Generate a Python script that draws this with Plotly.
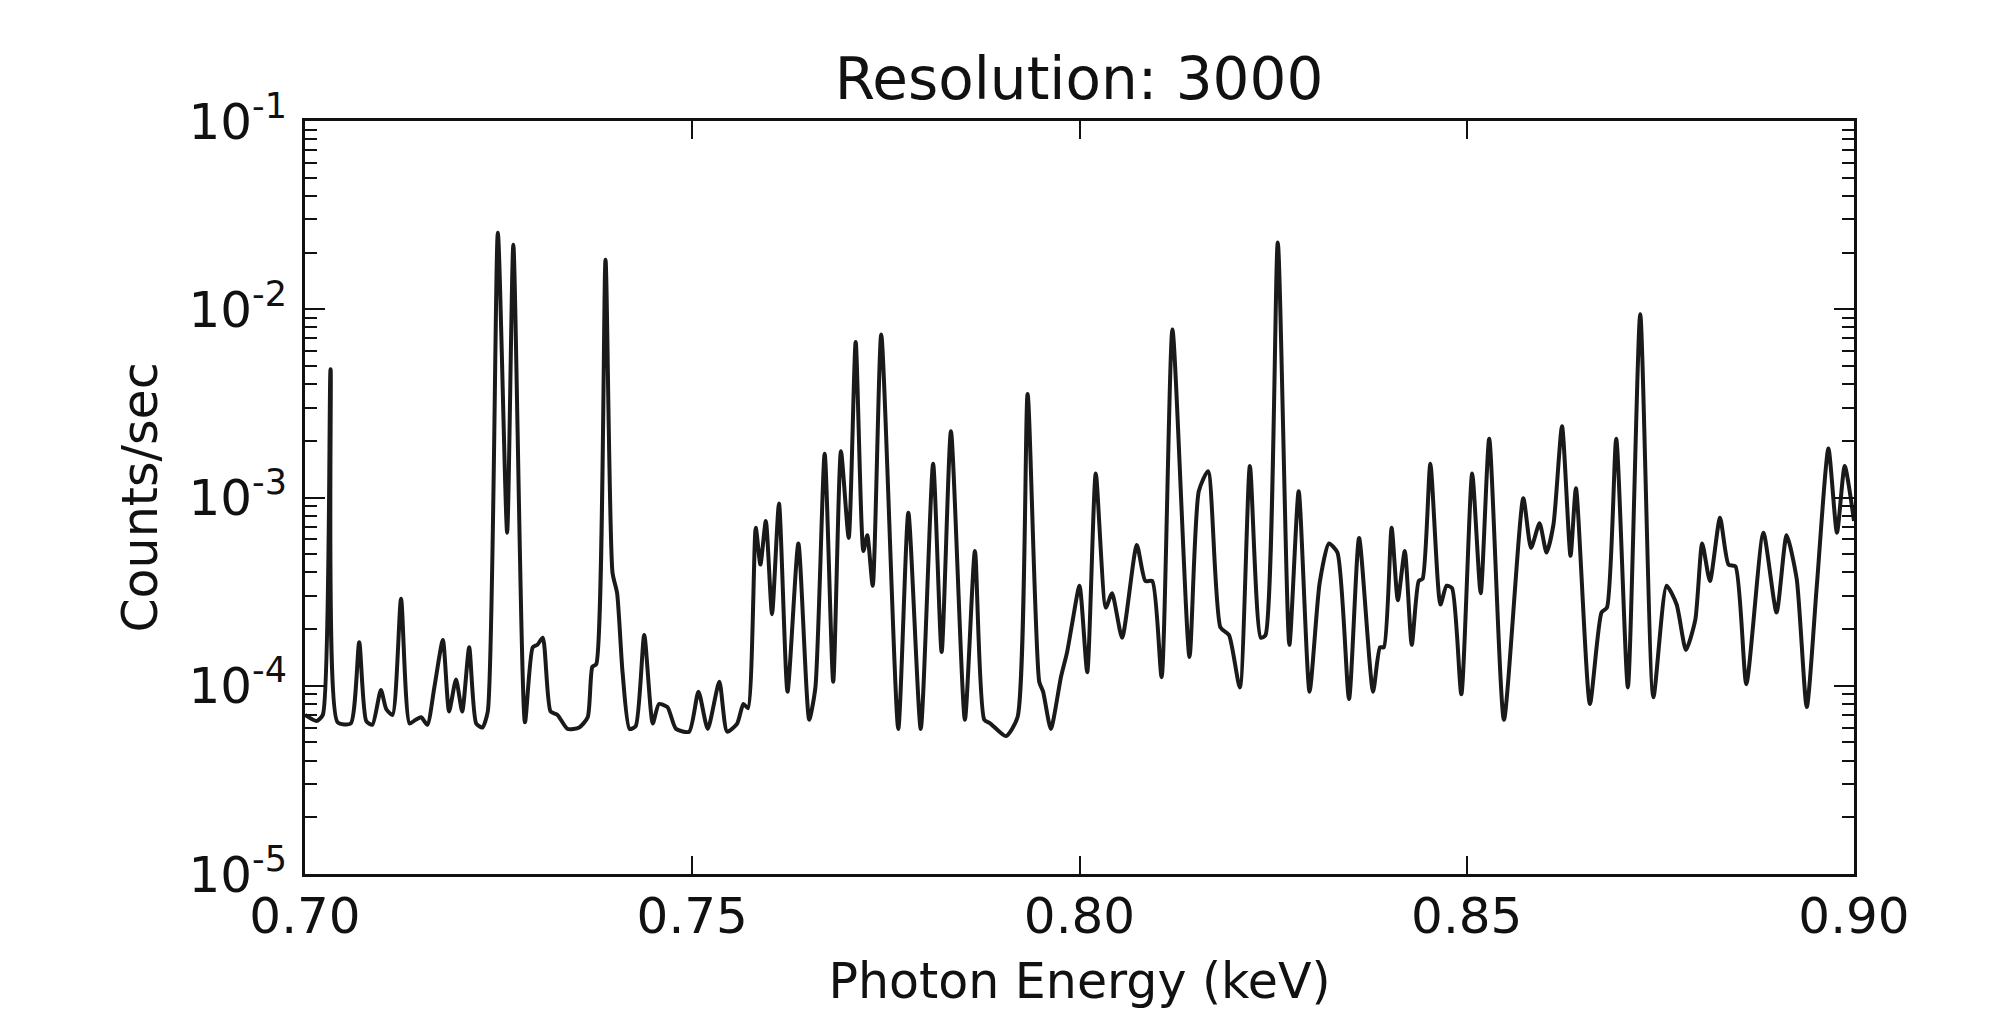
import plotly.graph_objects as go

# Photon energy (keV)
energy = [
    0.7000, 0.7015, 0.7023, 0.7033, 0.7042, 0.7059, 0.7070, 0.7079, 0.7087, 0.7098,
    0.7105, 0.7113, 0.7124, 0.7135, 0.7143, 0.7150, 0.7158, 0.7167, 0.7178, 0.7186,
    0.7195, 0.7203, 0.7212, 0.7221, 0.7229, 0.7236, 0.7249, 0.7261, 0.7269, 0.7284,
    0.7294, 0.7300, 0.7307, 0.7317, 0.7326, 0.7339, 0.7354, 0.7365, 0.7371, 0.7376,
    0.7388, 0.7397, 0.7403, 0.7410, 0.7419, 0.7427, 0.7438, 0.7449, 0.7457, 0.7468,
    0.7479, 0.7496, 0.7508, 0.7520, 0.7535, 0.7545, 0.7558, 0.7566, 0.7572, 0.7582,
    0.7588, 0.7595, 0.7603, 0.7612, 0.7623, 0.7637, 0.7651, 0.7659, 0.7671, 0.7682,
    0.7692, 0.7702, 0.7711, 0.7721, 0.7726, 0.7733, 0.7744, 0.7766, 0.7779, 0.7795,
    0.7811, 0.7822, 0.7834, 0.7852, 0.7865, 0.7877, 0.7885, 0.7905, 0.7920, 0.7933,
    0.7948, 0.7953, 0.7963, 0.7976, 0.7984, 0.7991, 0.8000, 0.8010, 0.8021, 0.8034,
    0.8042, 0.8055, 0.8074, 0.8085, 0.8094, 0.8106, 0.8120, 0.8142, 0.8154, 0.8166,
    0.8182, 0.8193, 0.8207, 0.8220, 0.8234, 0.8240, 0.8256, 0.8271, 0.8283, 0.8297,
    0.8310, 0.8322, 0.8333, 0.8348, 0.8361, 0.8379, 0.8388, 0.8393, 0.8403, 0.8411,
    0.8420, 0.8429, 0.8438, 0.8443, 0.8453, 0.8466, 0.8474, 0.8481, 0.8493, 0.8507,
    0.8518, 0.8529, 0.8548, 0.8573, 0.8583, 0.8594, 0.8603, 0.8612, 0.8623, 0.8634,
    0.8641, 0.8659, 0.8674, 0.8681, 0.8693, 0.8708, 0.8724, 0.8741, 0.8758, 0.8771,
    0.8783, 0.8795, 0.8804, 0.8814, 0.8827, 0.8838, 0.8847, 0.8861, 0.8883, 0.8900,
    0.8913, 0.8926, 0.8939, 0.8952, 0.8967, 0.8978, 0.8988, 0.9000,
]

# Counts/sec
counts = [
    7.0e-5, 6.5e-5, 7.0e-5, 4.8e-3, 6.4e-5, 6.3e-5, 1.7e-4, 6.5e-5, 6.2e-5, 9.5e-5,
    7.5e-5, 7.0e-5, 2.9e-4, 6.3e-5, 6.6e-5, 6.8e-5, 6.2e-5, 9.8e-5, 1.75e-4, 7.3e-5,
    1.08e-4, 7.3e-5, 1.6e-4, 6.3e-5, 6.0e-5, 7.3e-5, 2.55e-2, 6.5e-4, 2.2e-2, 6.4e-5,
    1.6e-4, 1.65e-4, 1.8e-4, 7.3e-5, 7.0e-5, 5.9e-5, 6.0e-5, 6.8e-5, 1.26e-4, 1.3e-4,
    1.83e-2, 4.0e-4, 3.1e-4, 1.18e-4, 5.9e-5, 6.1e-5, 1.86e-4, 6.3e-5, 8.0e-5, 7.7e-5,
    5.9e-5, 5.7e-5, 9.3e-5, 5.9e-5, 1.05e-4, 5.7e-5, 6.3e-5, 8.0e-5, 7.6e-5, 6.9e-4,
    4.4e-4, 7.5e-4, 2.4e-4, 9.3e-4, 9.3e-5, 5.7e-4, 6.6e-5, 9.8e-5, 1.71e-3, 1.05e-4,
    1.76e-3, 6.1e-4, 6.7e-3, 5.2e-4, 6.3e-4, 3.4e-4, 7.35e-3, 5.9e-5, 8.3e-4, 5.9e-5,
    1.51e-3, 1.51e-4, 2.25e-3, 6.6e-5, 5.2e-4, 6.6e-5, 6.3e-5, 5.4e-5, 6.8e-5, 3.55e-3,
    1.05e-4, 9.3e-5, 5.9e-5, 1.11e-4, 1.51e-4, 2.2e-4, 3.4e-4, 1.18e-4, 1.34e-3, 2.6e-4,
    3.1e-4, 1.8e-4, 5.6e-4, 3.6e-4, 3.6e-4, 1.11e-4, 7.8e-3, 1.42e-4, 1.08e-3, 1.38e-3,
    2.04e-4, 1.86e-4, 9.8e-5, 1.47e-3, 1.8e-4, 1.85e-4, 2.26e-2, 1.65e-4, 1.08e-3, 9.3e-5,
    3.5e-4, 5.7e-4, 5.1e-4, 8.5e-5, 6.1e-4, 9.3e-5, 1.6e-4, 1.6e-4, 6.9e-4, 2.85e-4,
    5.2e-4, 1.65e-4, 3.6e-4, 3.7e-4, 1.51e-3, 2.7e-4, 3.4e-4, 3.3e-4, 9.0e-5, 1.34e-3,
    3.1e-4, 2.05e-3, 6.6e-5, 9.9e-4, 5.4e-4, 7.3e-4, 5.1e-4, 7.2e-4, 2.39e-3, 4.9e-4,
    1.12e-3, 8.0e-5, 2.45e-4, 2.6e-4, 2.05e-3, 9.8e-5, 9.4e-3, 8.7e-5, 3.4e-4, 2.7e-4,
    1.55e-4, 2.23e-4, 5.7e-4, 3.6e-4, 7.8e-4, 4.4e-4, 4.3e-4, 1.02e-4, 6.5e-4, 2.45e-4,
    6.3e-4, 3.7e-4, 7.7e-5, 3.4e-4, 1.82e-3, 6.5e-4, 1.47e-3, 7.5e-4,
]

x_tickvals = [0.70, 0.75, 0.80, 0.85, 0.90]
x_ticktext = ["0.70", "0.75", "0.80", "0.85", "0.90"]
y_tickvals = [1e-5, 1e-4, 1e-3, 1e-2, 1e-1]
y_ticktext = ["10<sup>-5</sup>", "10<sup>-4</sup>", "10<sup>-3</sup>",
              "10<sup>-2</sup>", "10<sup>-1</sup>"]
y_minor = [m * 10.0 ** e for e in range(-5, -1) for m in range(2, 10)]

FONT = "DejaVu Sans"
INK = "#111111"

fig = go.Figure()
fig.add_trace(go.Scatter(
    x=energy, y=counts, mode="lines",
    line=dict(color="#1a1a1a", width=4, shape="spline", smoothing=0.6),
    showlegend=False,
))

fig.update_layout(
    width=1992, height=1011,
    paper_bgcolor="white", plot_bgcolor="white",
    margin=dict(l=305, r=138, t=121, b=137, autoexpand=False),
    font=dict(family=FONT, color=INK, size=50),
    title=dict(
        text="Resolution: 3000",
        font=dict(family=FONT, size=58, color=INK),
        x=1079 / 1992, xanchor="center", xref="container",
        y=1 - 79 / 1011, yanchor="middle", yref="container",
    ),
)

fig.update_xaxes(
    range=[0.70, 0.90],
    tickmode="array", tickvals=x_tickvals, ticktext=x_ticktext,
    ticks="inside", ticklen=18, tickwidth=2, tickcolor=INK,
    showline=True, linewidth=3, linecolor=INK, mirror="ticks",
    showgrid=False, zeroline=False,
    tickfont=dict(family=FONT, size=50, color=INK),
    ticklabelstandoff=-4,
    automargin=False,
    title=dict(text="Photon Energy (keV)", font=dict(family=FONT, size=49, color=INK), standoff=20),
)

fig.update_yaxes(
    type="log", range=[-5, -1],
    tickmode="array", tickvals=y_tickvals, ticktext=y_ticktext,
    ticks="inside", ticklen=20, tickwidth=2, tickcolor=INK,
    minor=dict(ticks="inside", ticklen=12, tickwidth=1.5, tickcolor=INK,
               tickmode="array", tickvals=y_minor, showgrid=False),
    showline=True, linewidth=3, linecolor=INK, mirror="ticks",
    showgrid=False, zeroline=False,
    tickfont=dict(family=FONT, size=50, color=INK),
    ticklabelstandoff=5,
    automargin=False,
    title=dict(text="Counts/sec", font=dict(family=FONT, size=49, color=INK), standoff=16),
)

fig.write_html("out.html", config={"displayModeBar": False},
               post_script="document.body.style.margin='0';")
